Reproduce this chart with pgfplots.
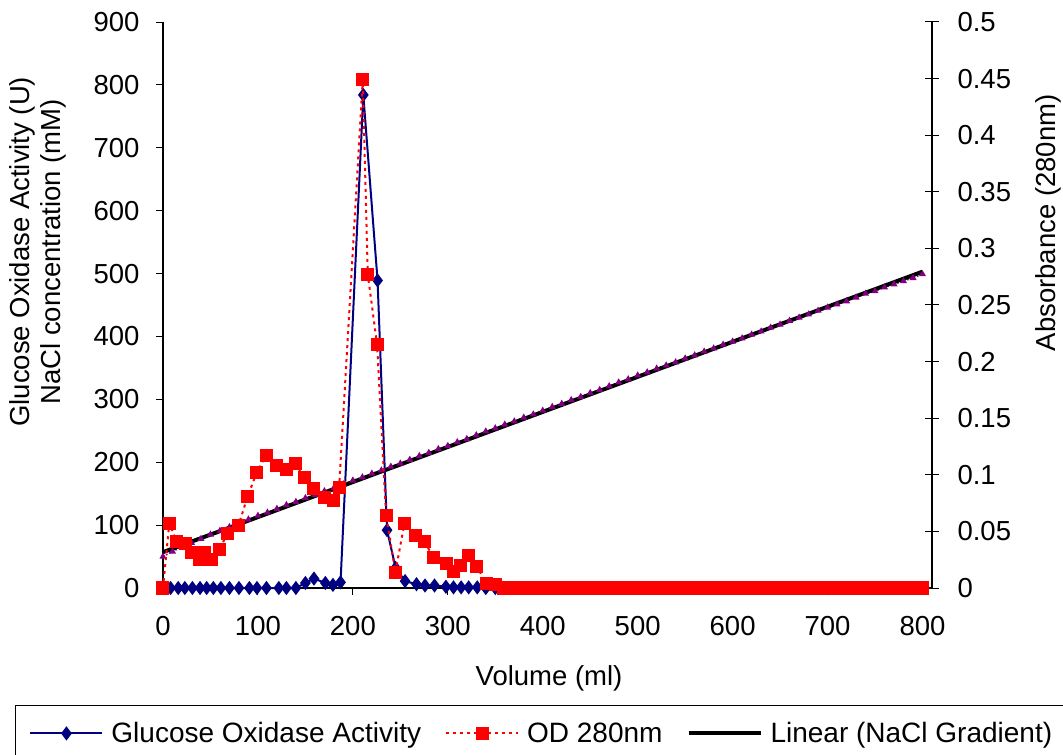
\documentclass[border=0pt]{standalone}
\usepackage{fontspec}
\setmainfont{Liberation Sans}
\usepackage{pgfplots}
\pgfplotsset{compat=1.18}
\definecolor{gnavy}{HTML}{000080}
\definecolor{gred}{HTML}{FF0000}
\definecolor{gpurple}{HTML}{800080}
\newcommand\cf{\fontsize{27.5}{31}\selectfont}
\begin{document}
\begin{tikzpicture}
\useasboundingbox (0,0) rectangle (1063pt,755pt);
\begin{axis}[
  at={(163pt,167pt)}, anchor=south west,
  scale only axis, width=769pt, height=566pt,
  xmin=0, xmax=810, ymin=0, ymax=900,
  xtick={0,100,...,800}, ytick={0,100,...,900},
  axis x line*=bottom, axis y line*=left,
  axis line style={line width=1.2pt},
  tick align=outside, major tick length=7pt,
  tick style={black, line width=1pt},
  /pgf/number format/assume math mode=true,
  tick label style={font=\cf},
  xticklabel style={yshift=-18pt},
  yticklabel style={xshift=-13pt},
  label style={font=\cf},
  xlabel={Volume (ml)},
  ylabel={Glucose Oxidase Activity (U)\\NaCl concentration (mM)},
  xlabel style={at={(axis description cs:0.502,-0.159)}, anchor=center},
  ylabel style={at={(axis description cs:-0.1625,0.594)}, anchor=center, align=center},
  clip=false,
]
% NaCl gradient (data series, not in legend)
\addplot[color=gpurple, line width=1.5pt, dotted, mark=triangle*, mark size=2.6pt, mark options={solid}, forget plot] coordinates {
(0,50) (10,58) (20,65) (30,72) (40,78) (50,85) (60,91) (70,97) (80,104) (90,109)
(100,115) (110,120) (120,126) (130,132) (140,137) (150,143) (160,148) (170,154) (180,159) (190,165)
(200,171) (210,176) (220,182) (230,187) (240,193) (250,198) (260,204) (270,210) (280,215) (290,221)
(300,226) (310,232) (320,237) (330,243) (340,249) (350,254) (360,260) (370,265) (380,271) (390,276)
(400,282) (410,288) (420,293) (430,299) (440,304) (450,310) (460,315) (470,321) (480,327) (490,332)
(500,338) (510,343) (520,349) (530,354) (540,359) (550,365) (560,370) (570,376) (580,381) (590,387)
(600,392) (610,397) (620,403) (630,408) (640,414) (650,419) (660,425) (670,430) (680,435) (690,441)
(700,446) (710,451) (720,456) (730,462) (740,468) (750,472) (760,478) (770,483) (780,488) (790,493)
(800,499)
};
% Linear trendline of NaCl gradient
\addplot[color=black, line width=4pt, forget plot] coordinates {(0,57) (800,503)};
% Glucose oxidase activity
\addplot[color=gnavy, line width=2pt, mark=diamond*, mark size=5.5pt, mark options={solid}, forget plot] coordinates {
(0,0) (8,0) (16,0) (23,0) (31,0) (39,0) (46,0) (53,0) (61,0) (70,0)
(80,0) (91,0) (99,0) (109,0) (122,0) (130,0) (140,0) (150,8) (159,15) (171,8)
(179,5) (187,9) (211,784) (226,489) (236,92) (245,32) (255,11) (267,6) (276,4) (286,4)
(298,2) (306,1) (314,1) (322,1) (331,1) (340,0) (350,0)
(359,0) (368,0) (377,0) (386,0) (395,0) (404,0) (413,0) (422,0) (431,0) (440,0)
(449,0) (458,0) (467,0) (476,0) (485,0) (494,0) (503,0) (512,0) (521,0) (530,0)
(539,0) (548,0) (557,0) (566,0) (575,0) (584,0) (593,0) (602,0) (611,0) (620,0)
(629,0) (638,0) (647,0) (656,0) (665,0) (674,0) (683,0) (692,0) (701,0) (710,0)
(719,0) (728,0) (737,0) (746,0) (755,0) (764,0) (773,0) (782,0) (791,0) (800,0)
};
\end{axis}
\begin{axis}[
  at={(163pt,167pt)}, anchor=south west,
  scale only axis, width=769pt, height=566pt,
  xmin=0, xmax=810, ymin=0, ymax=0.5,
  axis x line=none, axis y line*=right,
  axis line style={line width=1.2pt},
  ytick={0,0.05,0.1,0.15,0.2,0.25,0.3,0.35,0.4,0.45,0.5},
  yticklabels={0,0.05,0.1,0.15,0.2,0.25,0.3,0.35,0.4,0.45,0.5},
  tick align=center, major tick length=14pt,
  tick style={black, line width=1pt},
  /pgf/number format/assume math mode=true,
  tick label style={font=\cf},
  yticklabel style={xshift=15pt},
  label style={font=\cf},
  ylabel={Absorbance (280nm)},
  ylabel style={at={(axis description cs:1.151,0.645)}, anchor=center},
  clip=false,
  legend columns=3,
  legend cell align=left,
  legend style={at={(axis description cs:-0.1925,-0.2067)}, anchor=north west,
    draw=black, line width=1pt, font=\fontsize{28}{31}\selectfont, inner xsep=14pt, inner ysep=15pt,
    /tikz/every odd column/.append style={column sep=6pt},
    /tikz/every even column/.append style={column sep=22pt}},
  legend image code/.code={\draw[mark repeat=2,mark phase=2,#1] plot coordinates {(0pt,0pt) (36pt,0pt) (72pt,0pt)};},
]
\addlegendimage{color=gnavy, line width=2pt, mark=diamond*, mark size=5.5pt, mark options={solid}}
\addlegendentry{Glucose Oxidase Activity}
\addplot[color=gred, line width=2pt, dash pattern=on 3pt off 4pt, mark=square*, mark size=5.5pt, mark options={solid}] coordinates {
(0,0) (6.6,0.057) (14.4,0.041) (23.2,0.039) (30.2,0.031) (38,0.025) (43.2,0.031) (51.3,0.025) (59,0.034) (68.2,0.048)
(79.4,0.055) (89.2,0.081) (98.7,0.102) (108.5,0.117) (119.8,0.108) (129.6,0.105) (139.4,0.110) (148.6,0.098) (158.4,0.088) (169.7,0.080)
(179.5,0.077) (185.5,0.089) (210.4,0.449) (215.7,0.277) (225.5,0.215) (235,0.064) (244.8,0.014) (254.3,0.057) (266,0.046) (275.4,0.041)
(284.9,0.027) (298.2,0.022) (306,0.015) (313.7,0.020) (321.8,0.029) (330.6,0.019) (340.4,0.004) (349.8,0.003)
(359,0) (368,0) (377,0) (386,0) (395,0) (404,0) (413,0) (422,0) (431,0) (440,0)
(449,0) (458,0) (467,0) (476,0) (485,0) (494,0) (503,0) (512,0) (521,0) (530,0)
(539,0) (548,0) (557,0) (566,0) (575,0) (584,0) (593,0) (602,0) (611,0) (620,0)
(629,0) (638,0) (647,0) (656,0) (665,0) (674,0) (683,0) (692,0) (701,0) (710,0)
(719,0) (728,0) (737,0) (746,0) (755,0) (764,0) (773,0) (782,0) (791,0) (800,0)
};
\addlegendentry{OD 280nm}
\addlegendimage{color=black, line width=4pt}
\addlegendentry{Linear (NaCl Gradient)\hspace{20pt}}
\end{axis}
\end{tikzpicture}
\end{document}
